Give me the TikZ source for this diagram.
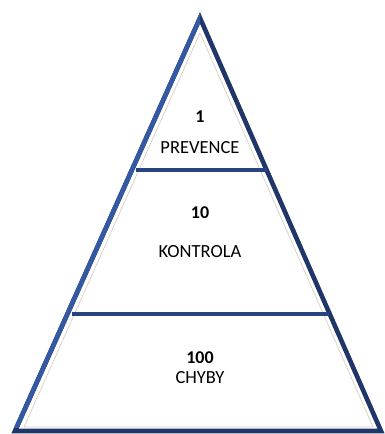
\documentclass[tikz,border=0pt]{standalone}
\usepackage{fontspec}
\setmainfont{Carlito}
\definecolor{edgeL}{RGB}{52,88,162}
\definecolor{edgeR}{RGB}{32,54,104}
\definecolor{bar}{RGB}{40,68,128}
\definecolor{innerline}{RGB}{214,206,196}
\begin{document}
\begin{tikzpicture}[x=1pt,y=-1pt,
  edge/.style={line width=4.6pt,line join=miter,miter limit=12},
  num/.style={font=\fontsize{18}{18}\selectfont\bfseries,anchor=base},
  lbl/.style={font=\fontsize{18.5}{18.5}\selectfont,anchor=base}]
  \useasboundingbox (0,0) rectangle (385,434);
  % corners of the pyramid
  \coordinate (apex) at (200,18);
  \coordinate (bl) at (15,431);
  \coordinate (br) at (381,431);
  % ends of the two dividing bars
  \coordinate (l1) at (136,170);
  \coordinate (r1) at (267,170);
  \coordinate (l2) at (72,314);
  \coordinate (r2) at (329,314);
  \fill[white] (apex) -- (bl) -- (br) -- cycle;
  % faint inner shadow line
  \draw[innerline,line width=0.7pt] (200,33) -- (373,427) -- (24,427) -- cycle;
  % outline: dark overall, lighter blue on the left flank
  \draw[edge,edgeR] (apex) -- (br) -- (bl) -- cycle;
  \begin{scope}
    \clip (0,0) rectangle (200,427);
    \draw[edge,edgeL] (apex) -- (br) -- (bl) -- cycle;
  \end{scope}
  % dividing bars
  \draw[edge,bar] (l1) -- (r1);
  \draw[edge,bar] (l2) -- (r2);
  % labels
  \node[num] (n1) at (200,122) {1};
  \node[lbl] (t1) at (200,153) {PREVENCE};
  \node[num] (n2) at (200,218) {10};
  \node[lbl] (t2) at (200,257) {KONTROLA};
  \node[num] (n3) at (200,363) {100};
  \node[lbl] (t3) at (200,383) {CHYBY};
\end{tikzpicture}
\end{document}
